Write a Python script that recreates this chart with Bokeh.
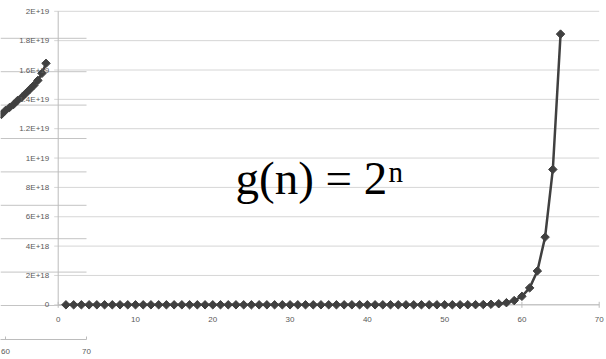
import numpy as np
from bokeh.plotting import figure
from bokeh.models import Range1d, LinearAxis, FixedTicker, Label
from bokeh.core.properties import value
from bokeh.embed import file_html
from bokeh.resources import INLINE

# ---------------- data ----------------
# main chart: g(n) = 2^n, plotted at x = 1..65
main_x = list(range(1, 66))
main_y = [float(v) for v in [
    1, 2, 4, 8, 16, 32, 64, 128, 256, 512,
    1024, 2048, 4096, 8192, 16384, 32768, 65536, 131072, 262144, 524288,
    1048576, 2097152, 4194304, 8388608, 16777216, 33554432, 67108864,
    134217728, 268435456, 536870912, 1073741824, 2147483648, 4294967296,
    8589934592, 17179869184, 34359738368, 68719476736, 137438953472,
    274877906944, 549755813888, 1099511627776, 2199023255552, 4398046511104,
    8796093022208, 17592186044416, 35184372088832, 70368744177664,
    140737488355328, 281474976710656, 562949953421312, 1125899906842624,
    2251799813685248, 4503599627370496, 9007199254740992, 18014398509481984,
    36028797018963968, 72057594037927936, 144115188075855872,
    288230376151711744, 576460752303423488, 1152921504606846976,
    2305843009213693952, 4611686018427387904, 9223372036854775808,
    18446744073709551616]]

main_x_ticks = [0, 10, 20, 30, 40, 50, 60, 70]
main_x_labels = ["0", "10", "20", "30", "40", "50", "60", "70"]
main_y_ticks = [0, 2e18, 4e18, 6e18, 8e18, 1e19, 1.2e19, 1.4e19, 1.6e19, 1.8e19, 2e19]
main_y_labels = ["0", "2E+18", "4E+18", "6E+18", "8E+18", "1E+19",
                 "1.2E+19", "1.4E+19", "1.6E+19", "1.8E+19", "2E+19"]

# partly hidden chart behind, on the left (only its right end is visible)
left_x = [59.5, 60.0, 60.5, 61.0, 61.5, 62.0, 62.5, 63.0, 63.5, 64.0, 64.5, 65.0]
left_y = [5.72, 5.84, 5.93, 6.02, 6.14, 6.23, 6.35, 6.47, 6.59, 6.74, 6.95, 7.25]
left_grid = [0, 1, 2, 3, 4, 5, 6, 7, 8]
left_x_ticks = [50, 60, 70]
left_x_max = 70

# ---------------- layout (page pixels) ----------------
W, H = 606, 359
BOTTOM = 20
FR_L, FR_R = 0, W
FR_T, FR_B = 0, H - BOTTOM

# main chart mapping
mx0_px, mx70_px = 57.7, 598.7
msx = (mx70_px - mx0_px) / 70.0
my0_px, my20_px = 304.3, 10.8
msy = (my0_px - my20_px) / 2e19

def mx(px):
    return (px - mx0_px) / msx

def my(py):
    return (my0_px - py) / msy

# left chart mapping
lx70_px, lsx = 86.0, 8.1
ly0_px, lsy = 305.0, 33.4

def lx(px):
    return 70 + (px - lx70_px) / lsx

def ly(py):
    return (ly0_px - py) / lsy

p = figure(width=W, height=H, output_backend="svg", toolbar_location=None,
           x_axis_type=None, y_axis_type=None,
           x_range=Range1d(mx(FR_L), mx(FR_R)), y_range=Range1d(my(FR_B), my(FR_T)),
           min_border_left=0, min_border_right=0, min_border_top=0,
           min_border_bottom=BOTTOM)
p.outline_line_color = None
p.background_fill_color = "white"
p.border_fill_color = "white"
p.extra_x_ranges = {"lx": Range1d(lx(FR_L), lx(FR_R))}
p.extra_y_ranges = {"ly": Range1d(ly(FR_B), ly(FR_T))}

GRID = "#d6d6d6"
AXIS = "#bcbcbc"
LBL = "#595959"
SER = "#404040"

# ---- left (background) chart ----
lx_start = p.extra_x_ranges["lx"].start
p.segment(x0=[lx_start] * len(left_grid), x1=[left_x_max] * len(left_grid),
          y0=left_grid, y1=left_grid, line_color="#c4c4c4", line_width=1,
          x_range_name="lx", y_range_name="ly")
p.line(left_x, left_y, line_color=SER, line_width=2.5,
       x_range_name="lx", y_range_name="ly")
p.scatter(left_x, left_y, marker="square", angle=np.pi / 4, size=6,
          fill_color=SER, line_color=SER, x_range_name="lx", y_range_name="ly")

lax = LinearAxis(x_range_name="lx", ticker=FixedTicker(ticks=left_x_ticks),
                 bounds=(left_x_ticks[0], left_x_max))
lax.axis_line_color = AXIS
lax.major_tick_line_color = AXIS
lax.major_tick_in = 3
lax.major_tick_out = 0
lax.minor_tick_line_color = None
lax.major_label_standoff = 9
lax.major_label_text_font = "Liberation Sans"
lax.major_label_text_font_size = "8px"
lax.major_label_text_color = LBL
p.add_layout(lax, "below")

# ---- main chart ----
gx0 = mx(mx0_px - 4)
n = len(main_y_ticks)
p.segment(x0=[gx0] * n, x1=[main_x_ticks[-1]] * n, y0=main_y_ticks, y1=main_y_ticks,
          line_color=GRID, line_width=1)
p.segment(x0=[main_x_ticks[0]], x1=[main_x_ticks[-1]], y0=[0], y1=[0],
          line_color=AXIS, line_width=1)
p.segment(x0=[0], x1=[0], y0=[main_y_ticks[0]], y1=[main_y_ticks[-1]],
          line_color=AXIS, line_width=1)
p.scatter(main_x_ticks, [0] * len(main_x_ticks), marker="dash", angle=np.pi / 2,
          size=6, line_color=AXIS)

p.text(x=[0] * n, y=main_y_ticks, text=main_y_labels, x_offset=-9,
       text_align="right", text_baseline="middle",
       text_font=value("Liberation Sans"), text_font_size="8px", text_color=LBL)
p.text(x=main_x_ticks, y=[0] * len(main_x_ticks), text=main_x_labels, y_offset=15,
       text_align="center", text_baseline="middle",
       text_font=value("Liberation Sans"), text_font_size="8px", text_color=LBL)

p.line(main_x, main_y, line_color=SER, line_width=2.5)
p.scatter(main_x, main_y, marker="square", angle=np.pi / 4, size=6,
          fill_color=SER, line_color=SER)

# ---- formula label ----
p.add_layout(Label(x=mx(235), y=my(177), text="g(n) = 2",
                   text_font="Liberation Serif", text_font_size="47px",
                   text_color="black", text_baseline="alphabetic", text_align="left"))
p.add_layout(Label(x=mx(388), y=my(171), text="n",
                   text_font="Liberation Serif", text_font_size="29px",
                   text_color="black", text_baseline="alphabetic", text_align="left"))

open("out.html", "w").write(file_html(p, INLINE))
